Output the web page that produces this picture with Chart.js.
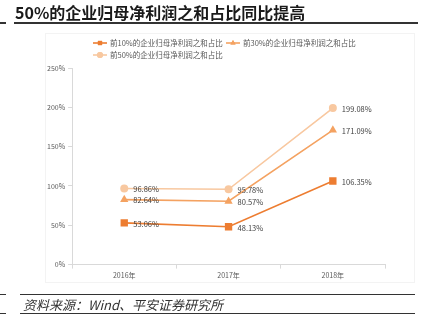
<!DOCTYPE html>
<html>
<head>
<meta charset="utf-8">
<script src="https://cdn.jsdelivr.net/npm/chart.js@4.4.1/dist/chart.umd.min.js"></script>
<style>
  body { margin: 0; background: #fff; }
  #wrap { position: relative; width: 426px; height: 330px; overflow: hidden; }
  #chart { position: absolute; left: 0; top: 0; }
  .title { position: absolute; left: 15px; top: 4px; font: bold 16px "Noto Sans CJK SC", sans-serif; line-height: 16px; color: #1a1a1a; white-space: nowrap; }
  .rule { position: absolute; background: #333; }
  .source { position: absolute; left: 23px; top: 296px; font: italic 13px "Noto Sans CJK SC", sans-serif; color: #333; white-space: nowrap; line-height: 17px; }
  .box { position: absolute; left: 45px; top: 33px; width: 370px; height: 250px; border: 1px solid #f3f3f3; box-sizing: border-box; }
</style>
</head>
<body>
<div id="wrap">
  <div class="box"></div>
  <canvas id="chart" width="426" height="330"></canvas>
  <div class="title">50%的企业归母净利润之和占比同比提高</div>
  <div class="rule" style="left:0;top:22px;width:6px;height:2px"></div>
  <div class="rule" style="left:14px;top:22px;width:404px;height:2px"></div>
  <div class="rule" style="left:0;top:294px;width:6px;height:1px"></div>
  <div class="rule" style="left:20px;top:294px;width:395px;height:1px"></div>
  <div class="source">资料来源：Wind、平安证券研究所</div>
  <div class="rule" style="left:0;top:313px;width:6px;height:1px"></div>
  <div class="rule" style="left:20px;top:313px;width:395px;height:1px"></div>
</div>
<script>
const years = ["2016年", "2017年", "2018年"];
const seriesNames = ["前10%的企业归母净利润之和占比", "前30%的企业归母净利润之和占比", "前50%的企业归母净利润之和占比"];
const top10 = [53.06, 48.13, 106.35];
const top30 = [82.64, 80.57, 171.09];
const top50 = [96.86, 95.78, 199.08];
const yTicks = [0, 50, 100, 150, 200, 250];

const colors = ["#ED7D31", "#F4A261", "#F8C8A0"];
const markers = ["rect", "triangle", "circle"];
const sizes = [5.2, 4.8, 4];

const cjk = '"Noto Sans CJK SC", sans-serif';

function makeSet(i, data) {
  return {
    label: seriesNames[i],
    data: data,
    borderColor: colors[i],
    backgroundColor: colors[i],
    borderWidth: 1.6,
    pointStyle: markers[i],
    pointRadius: sizes[i],
    pointHoverRadius: sizes[i],
    pointBorderWidth: 0,
    tension: 0
  };
}

// value labels right of each point
const valueLabels = {
  id: 'valueLabels',
  afterDatasetsDraw(chart) {
    const ctx = chart.ctx;
    ctx.save();
    ctx.font = '7.5px ' + cjk;
    ctx.fillStyle = '#404040';
    ctx.textAlign = 'left';
    ctx.textBaseline = 'middle';
    chart.data.datasets.forEach((ds, i) => {
      chart.getDatasetMeta(i).data.forEach((pt, j) => {
        ctx.fillText(ds.data[j].toFixed(2) + '%', pt.x + 9, pt.y + 1);
      });
    });
    ctx.restore();
  }
};

// excel-like legend: line with marker, left aligned rows
const lineLegend = {
  id: 'lineLegend',
  afterDraw(chart) {
    const ctx = chart.ctx;
    const spots = [[93, 43], [226, 43], [93, 55]];
    ctx.save();
    ctx.font = '7.5px ' + cjk;
    ctx.textBaseline = 'middle';
    chart.data.datasets.forEach((ds, i) => {
      const [x, y] = spots[i];
      ctx.strokeStyle = ds.borderColor;
      ctx.lineWidth = 1.6;
      ctx.beginPath();
      ctx.moveTo(x, y);
      ctx.lineTo(x + 14, y);
      ctx.stroke();
      ctx.fillStyle = ds.backgroundColor;
      Chart.helpers.drawPoint(ctx, { pointStyle: ds.pointStyle, radius: 3, borderWidth: 0 }, x + 7, y);
      ctx.fill();
      ctx.fillStyle = '#595959';
      ctx.fillText(ds.label, x + 17, y + 0.5);
    });
    ctx.restore();
  }
};

new Chart(document.getElementById('chart'), {
  type: 'line',
  data: {
    labels: years,
    datasets: [makeSet(0, top10), makeSet(1, top30), makeSet(2, top50)]
  },
  options: {
    responsive: false,
    animation: false,
    layout: { padding: { top: 68, left: 44, right: 41, bottom: 47 } },
    plugins: { legend: { display: false }, tooltip: { enabled: false } },
    scales: {
      x: {
        offset: true,
        grid: { offset: true, drawOnChartArea: false, tickLength: 4, color: '#d9d9d9' },
        border: { color: '#d9d9d9' },
        ticks: { font: { size: 7, family: cjk }, color: '#595959', padding: 3 }
      },
      y: {
        min: 0,
        max: 250,
        afterBuildTicks(axis) { axis.ticks = yTicks.map(v => ({ value: v })); },
        grid: { drawOnChartArea: false, tickLength: 4, color: '#d9d9d9' },
        border: { color: '#d9d9d9' },
        ticks: { font: { size: 7, family: cjk }, color: '#595959', padding: 3, callback: v => v + '%' }
      }
    }
  },
  plugins: [valueLabels, lineLegend]
});
</script>
</body>
</html>
